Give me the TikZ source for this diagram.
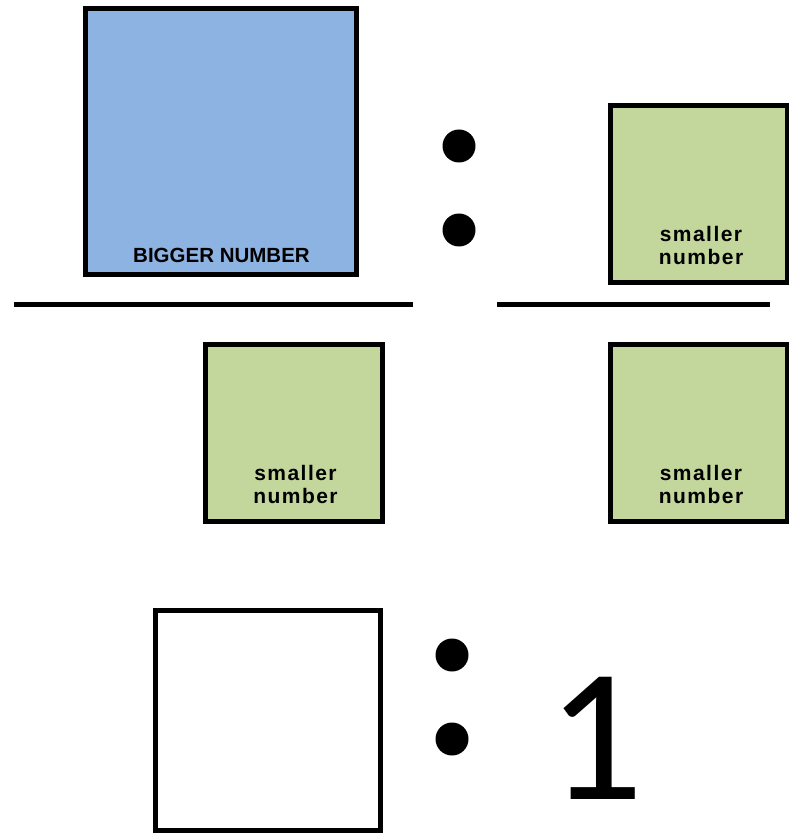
\documentclass[tikz,border=0pt]{standalone}
\usepackage{fontspec}
\setmainfont{Liberation Sans}
\newfontfamily\calib{Carlito}
\definecolor{boxblue}{HTML}{8DB3E2}
\definecolor{boxgreen}{HTML}{C3D69B}
\begin{document}
\begin{tikzpicture}[x=1pt,y=-1pt,
  sqbox/.style={draw=black, line width=5pt, inner sep=0pt, outer sep=0pt},
  greenbox/.style={sqbox, fill=boxgreen, minimum width=177pt, minimum height=177pt},
  lbl/.style={anchor=base, inner sep=0pt, font=\fontsize{21}{21}\selectfont\bfseries\addfontfeatures{LetterSpace=7}},
  biglbl/.style={anchor=base, inner sep=0pt, font=\fontsize{20.5}{20.5}\selectfont\bfseries},
  dot/.style={circle, fill=black, minimum size=33pt, inner sep=0pt},
  bar/.style={line width=5.5pt}
]
\useasboundingbox (0,0) rectangle (788,834);
% top: big number box
\node[sqbox, fill=boxblue, minimum width=271pt, minimum height=266pt] (big) at (221,141.5) {};
\node[biglbl] (bigt) at (221.5,262) {BIGGER NUMBER};
% colon dots top
\node[dot] (d1) at (459,146) {};
\node[dot] (d2) at (459,230) {};
% top right green
\node[greenbox] (g1) at (699,194) {};
\node[lbl] (g1a) at (701,241) {smaller};
\node[lbl] (g1b) at (701,264) {number};
% fraction bars
\coordinate (l1a) at (14,304.5);
\coordinate (l1b) at (413,304.5);
\coordinate (l2a) at (497,304.5);
\coordinate (l2b) at (770,304.5);
\draw[bar] (l1a) -- (l1b);
\draw[bar] (l2a) -- (l2b);
% bottom greens
\node[greenbox] (g2) at (294,433) {};
\node[lbl] (g2a) at (295.5,480) {smaller};
\node[lbl] (g2b) at (295.5,503) {number};
\node[greenbox] (g3) at (699,433) {};
\node[lbl] (g3a) at (701,480) {smaller};
\node[lbl] (g3b) at (701,503) {number};
% answer
\node[sqbox, fill=white, minimum width=225pt, minimum height=220pt] (ans) at (268,720.5) {};
\node[dot] (d3) at (452,655) {};
\node[dot] (d4) at (452,739) {};
\node[anchor=base, inner sep=0pt, font=\calib\fontsize{190}{190}\selectfont] (one) at (596,799) {1};
\end{tikzpicture}
\end{document}
